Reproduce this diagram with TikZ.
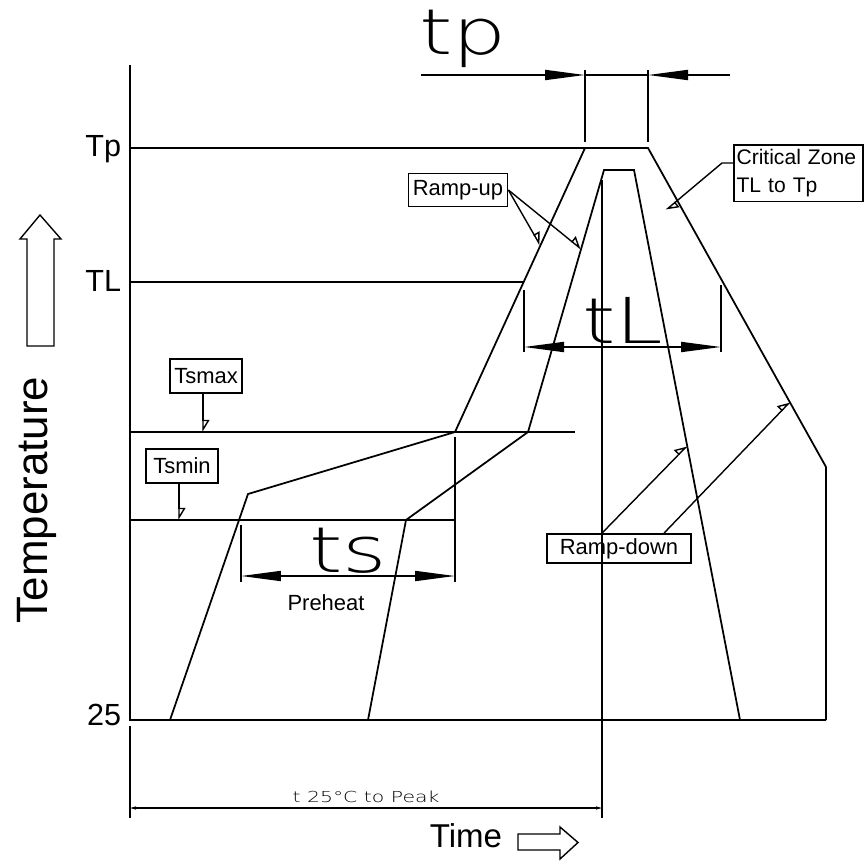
\documentclass[tikz,border=0pt]{standalone}
\usepackage{fontspec}
\setmainfont{Liberation Sans}
\newfontfamily\cadfont[FakeStretch=1.35]{DejaVuSans-ExtraLight.ttf}
\usetikzlibrary{arrows.meta}

\begin{document}
\begin{tikzpicture}[x=0.02cm, y=-0.02cm, line width=1pt, >={Triangle[length=0.8cm,width=0.2cm]}]

% boxed label style
\tikzstyle{lbl} = [
    draw,
    rectangle,
    inner sep=2pt,
    font=\fontsize{12.5}{16}\selectfont
]

% leader style
\tikzstyle{ldr} = [
    -{Triangle[open,left,length=0.22cm,width=0.26cm]},
    line width=0.8pt
]

% dimension letters style
\tikzstyle{dimtxt} = [
    inner sep=0pt,
    anchor=base,
    font=\cadfont\fontsize{36}{36}\selectfont
]

% axis text style
\tikzstyle{axtxt} = [
    inner sep=0pt,
    anchor=base east,
    font=\fontsize{17.4}{18}\selectfont
]

\useasboundingbox (0,0) rectangle (864,861);

% Place the points.
\coordinate (ax-top) at (130,65);
\coordinate (ax-bot) at (130,720);
\coordinate (tp-0) at (130,148);
\coordinate (tl-0) at (130,282);
\coordinate (tl-1) at (524,282);
\coordinate (smax-0) at (130,432);
\coordinate (smax-1) at (575,432);
\coordinate (smin-0) at (130,520);
\coordinate (smin-1) at (455,520);

% outer profile
\coordinate (o1) at (170,720);
\coordinate (o2) at (248,494);
\coordinate (o3) at (455,432);
\coordinate (o4) at (585,148);
\coordinate (o5) at (648,148);
\coordinate (o6) at (826,467);
\coordinate (o7) at (826,720);

% inner profile
\coordinate (i1) at (368,720);
\coordinate (i2) at (406,520);
\coordinate (i3) at (528,432);
\coordinate (i4) at (604,170);
\coordinate (i5) at (634,170);
\coordinate (i6) at (740,720);

% peak line
\coordinate (pk-top) at (602,180);
\coordinate (pk-bot) at (602,818);

% Draw the axes and levels.
\draw (ax-top) -- (ax-bot) -- (o7);
\draw (tp-0) -- (o4);
\draw (tl-0) -- (tl-1);
\draw (smax-0) -- (smax-1);
\draw (smin-0) -- (smin-1);
\draw (pk-top) -- (pk-bot);

% Draw the profiles.
\draw (o1) -- (o2) -- (o3) -- (o4) -- (o5) -- (o6) -- (o7);
\draw (i1) -- (i2) -- (i3) -- (i4) -- (i5) -- (i6);

% tp dimension
\draw (585,70) -- (585,142);
\draw (648,70) -- (648,142);
\draw [->] (421,75) -- (585,75);
\draw [->] (730,75) -- (648,75);
\draw (585,75) -- (648,75);
\node [dimtxt] (tp-txt) at (463,55) {tp};

% tL dimension
\draw (524,290) -- (524,352);
\draw (721,285) -- (721,352);
\draw [<->] (524,347) -- (721,347);
\node [dimtxt] (tl-txt) at (623,343) {tL};

% ts dimension
\draw (241,525) -- (241,582);
\draw (455,437) -- (455,582);
\draw [<->] (241,576) -- (455,576);
\node [dimtxt] (ts-txt) at (348,572) {ts};
\node [font=\fontsize{12.5}{15}\selectfont] (preheat) at (326,603) {Preheat};

% t 25 to peak dimension
\draw (130,726) -- (130,818);
\draw [{Triangle[length=0.12cm,width=0.06cm]}-{Triangle[length=0.12cm,width=0.06cm]}, line width=0.6pt] (130,808) -- (602,808);
\node [anchor=base, inner sep=0pt, font=\cadfont\fontsize{8.6}{10}\selectfont] (peak-txt) at (366,802) {t 25°C to Peak};

% Axis labels.
\node [axtxt] (tp-lbl) at (122,157) {Tp};
\node [axtxt] (tl-lbl) at (122,291) {TL};
\node [axtxt] (low-lbl) at (122,725) {25};

\node [rotate=90, anchor=base, inner sep=0pt, font=\fontsize{25}{25}\selectfont] (temp) at (47,500) {Temperature};
\draw [line width=0.8pt] (27,346) -- (27,239) -- (20,239) -- (40,215) -- (61,239) -- (54,239) -- (54,346) -- cycle;

\node [anchor=base, inner sep=0pt, font=\fontsize{18.8}{20}\selectfont] (time) at (466,847) {Time};
\draw [line width=0.8pt] (518,834) -- (560,834) -- (560,827) -- (578,842.5) -- (560,859) -- (560,850) -- (518,850) -- cycle;

% Boxed labels and leaders.
\node [lbl, minimum width=1.44cm, minimum height=0.68cm] (tsmax) at (206,376) {Tsmax};
\coordinate (tsmax-tip) at (203,432);
\draw [ldr] (tsmax.south -| tsmax-tip) -- (tsmax-tip);

\node [lbl, minimum width=1.44cm, minimum height=0.68cm] (tsmin) at (182,466) {Tsmin};
\coordinate (tsmin-tip) at (179,520);
\draw [ldr] (tsmin.south -| tsmin-tip) -- (tsmin-tip);

\node [lbl, minimum width=1.98cm, minimum height=0.66cm] (rampup) at (458,190) {Ramp-up};
\coordinate (ru-tip1) at (540,245);
\coordinate (ru-tip2) at (581,249);
\draw [ldr] (rampup.east) -- (ru-tip1);
\draw [ldr] (rampup.east) -- (ru-tip2);

\node [lbl, anchor=north west, align=left, inner xsep=1.5pt, inner ysep=2.5pt, text width=2.48cm, font=\fontsize{12}{16}\selectfont] (crit) at (733,144) {Critical Zone\\TL to Tp};
\coordinate (crit-tip) at (666,210);
\draw [ldr] (crit.north west) ++(0,19) -- ++(-11,0) -- (crit-tip);

\node [lbl, minimum width=2.88cm, minimum height=0.58cm] (rampdown) at (619,548.5) {Ramp-down};
\coordinate (rd-tip1) at (687,446);
\coordinate (rd-tip2) at (790,402);
\draw [ldr] (rampdown.north -| pk-top) -- (rd-tip1);
\draw [ldr] (rampdown.north) ++(45,0) -- (rd-tip2);

\end{tikzpicture}
\end{document}
